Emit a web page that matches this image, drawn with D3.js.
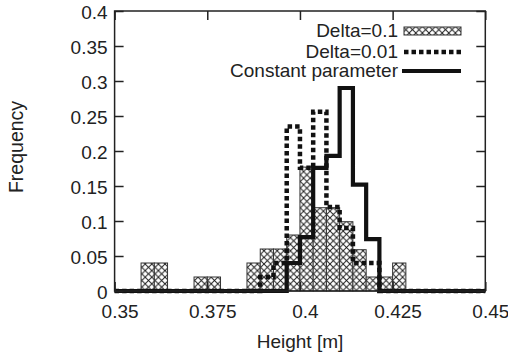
<!DOCTYPE html>
<html>
<head>
<meta charset="utf-8">
<script src="https://cdn.jsdelivr.net/npm/d3@7"></script>
<style>
  body { margin: 0; background: #fff; }
  svg { display: block; }
</style>
</head>
<body>
<svg class="chart" width="508" height="356"></svg>
<script>
// Histogram bins: width 0.1/28, left edges of each bin listed.
let binWidth = 0.1 / 28;

let deltaLargeBins = [0.35714, 0.36071, 0.37143, 0.37500, 0.38571, 0.38929, 0.39286, 0.39643,
    0.40000, 0.40357, 0.40714, 0.41071, 0.41429, 0.41786, 0.42143, 0.42500];
let deltaLargeFreq = [0.04, 0.04, 0.02, 0.02, 0.04, 0.06, 0.06, 0.08,
    0.177, 0.119, 0.119, 0.099, 0.059, 0.02, 0.02, 0.04];

let deltaSmallBins = [0.38929, 0.39286, 0.39643, 0.40000, 0.40357, 0.40714, 0.41071, 0.41429, 0.41786];
let deltaSmallFreq = [0.02, 0.04, 0.235, 0.176, 0.256, 0.12, 0.09, 0.04, 0.04];

let constantBins = [0.39643, 0.40000, 0.40357, 0.40714, 0.41071, 0.41429, 0.41786];
let constantFreq = [0.04, 0.077, 0.176, 0.193, 0.29, 0.152, 0.074];

let xTicks = [0.35, 0.375, 0.4, 0.425, 0.45];
let xTickLabels = ["0.35", "0.375", "0.4", "0.425", "0.45"];
let yTicks = [0, 0.05, 0.1, 0.15, 0.2, 0.25, 0.3, 0.35, 0.4];
let yTickLabels = ["0", "0.05", "0.1", "0.15", "0.2", "0.25", "0.3", "0.35", "0.4"];

let legendLabels = ["Delta=0.1", "Delta=0.01", "Constant parameter"];

let svg = d3.select(".chart");
let font = "'Liberation Sans', Arial, sans-serif";
let ink = "#222";

let plot = { left: 114.6, right: 485.3, top: 11, bottom: 291 };

let x = d3.scaleLinear().domain([0.35, 0.45]).range([plot.left, plot.right]);
let y = d3.scaleLinear().domain([0, 0.4]).range([plot.bottom, plot.top]);

// Cross hatch fill pattern.
let defs = svg.append("defs");
let pattern = defs.append("pattern")
    .attr("id", "hatch")
    .attr("patternUnits", "userSpaceOnUse")
    .attr("width", 6.6)
    .attr("height", 6.6);
pattern.append("rect")
    .attr("width", 6.6).attr("height", 6.6).attr("fill", "#fff");
pattern.append("path")
    .attr("d", "M0,0L6.6,6.6M0,6.6L6.6,0")
    .attr("stroke", "#1a1a1a")
    .attr("stroke-width", 0.95);

// Delta=0.1 bars.
svg.append("g").selectAll("rect")
    .data(deltaLargeBins)
    .join("rect")
    .attr("x", d => x(d))
    .attr("y", (d, i) => y(deltaLargeFreq[i]))
    .attr("width", d => x(d + binWidth) - x(d))
    .attr("height", (d, i) => y(0) - y(deltaLargeFreq[i]))
    .attr("fill", "url(#hatch)")
    .attr("stroke", "#333")
    .attr("stroke-width", 1);

// Step line from bins: runs along zero across the full range.
function stepPoints(bins, freq) {
    let pts = [[0.35, 0]];
    bins.forEach((b, i) => pts.push([b, freq[i]]));
    pts.push([bins[bins.length - 1] + binWidth, 0]);
    pts.push([0.45, 0]);
    return pts;
}

let stepLine = d3.line()
    .x(d => x(d[0]))
    .y(d => y(d[1]))
    .curve(d3.curveStepAfter);

// Delta=0.01 dashed steps.
svg.append("path")
    .attr("d", stepLine(stepPoints(deltaSmallBins, deltaSmallFreq)))
    .attr("fill", "none")
    .attr("stroke", "#111")
    .attr("stroke-width", 4.5)
    .attr("stroke-dasharray", "4.5,3");

// Constant parameter solid steps.
svg.append("path")
    .attr("d", stepLine(stepPoints(constantBins, constantFreq)))
    .attr("fill", "none")
    .attr("stroke", "#111")
    .attr("stroke-width", 4.2)
    .attr("stroke-linejoin", "miter");

// Frame.
svg.append("rect")
    .attr("x", plot.left)
    .attr("y", plot.top)
    .attr("width", plot.right - plot.left)
    .attr("height", plot.bottom - plot.top)
    .attr("fill", "none")
    .attr("stroke", ink)
    .attr("stroke-width", 1.5);

// Axes with inward ticks on all four sides.
function styleAxis(g) {
    g.select(".domain").remove();
    g.selectAll(".tick line").attr("stroke", ink).attr("stroke-width", 1.5);
    g.selectAll("text")
        .attr("font-family", font)
        .attr("font-size", 19)
        .attr("fill", ink);
}

svg.append("g")
    .attr("transform", "translate(0," + plot.bottom + ")")
    .call(d3.axisBottom(x).tickValues(xTicks)
        .tickFormat((d, i) => xTickLabels[i])
        .tickSizeInner(-9).tickSizeOuter(0).tickPadding(14))
    .call(styleAxis)
    .selectAll("text").attr("dx", 5);

svg.append("g")
    .attr("transform", "translate(0," + plot.top + ")")
    .call(d3.axisTop(x).tickValues(xTicks).tickFormat("")
        .tickSizeInner(-9).tickSizeOuter(0))
    .call(styleAxis);

svg.append("g")
    .attr("transform", "translate(" + plot.left + ",0)")
    .call(d3.axisLeft(y).tickValues(yTicks)
        .tickFormat((d, i) => yTickLabels[i])
        .tickSizeInner(-9).tickSizeOuter(0).tickPadding(7))
    .call(styleAxis)
    .selectAll("text").attr("dy", "0.38em");

svg.append("g")
    .attr("transform", "translate(" + plot.right + ",0)")
    .call(d3.axisRight(y).tickValues(yTicks).tickFormat("")
        .tickSizeInner(-9).tickSizeOuter(0))
    .call(styleAxis);

// Axis titles.
svg.append("text")
    .attr("x", 300)
    .attr("y", 348)
    .attr("text-anchor", "middle")
    .attr("font-family", font)
    .attr("font-size", 19)
    .attr("fill", ink)
    .text("Height [m]");

svg.append("text")
    .attr("transform", "translate(23,147) rotate(-90)")
    .attr("text-anchor", "middle")
    .attr("font-family", font)
    .attr("font-size", 19.5)
    .attr("fill", ink)
    .text("Frequency");

// Legend.
let legend = { textX: 398, sampleX1: 404, sampleX2: 461, rowY: [31, 52, 71] };

legendLabels.forEach((label, i) => {
    svg.append("text")
        .attr("x", legend.textX)
        .attr("y", legend.rowY[i] + 6)
        .attr("text-anchor", "end")
        .attr("font-family", font)
        .attr("font-size", 19)
        .attr("fill", ink)
        .text(label);
});

svg.append("rect")
    .attr("x", legend.sampleX1)
    .attr("y", legend.rowY[0] - 4)
    .attr("width", legend.sampleX2 - legend.sampleX1)
    .attr("height", 8)
    .attr("fill", "url(#hatch)")
    .attr("stroke", "#333")
    .attr("stroke-width", 1);

svg.append("line")
    .attr("x1", legend.sampleX1).attr("x2", legend.sampleX2)
    .attr("y1", legend.rowY[1]).attr("y2", legend.rowY[1])
    .attr("stroke", "#111")
    .attr("stroke-width", 4.5)
    .attr("stroke-dasharray", "4.5,3");

svg.append("line")
    .attr("x1", legend.sampleX1 - 2).attr("x2", legend.sampleX2)
    .attr("y1", legend.rowY[2]).attr("y2", legend.rowY[2])
    .attr("stroke", "#111")
    .attr("stroke-width", 4.2);
</script>
</body>
</html>
